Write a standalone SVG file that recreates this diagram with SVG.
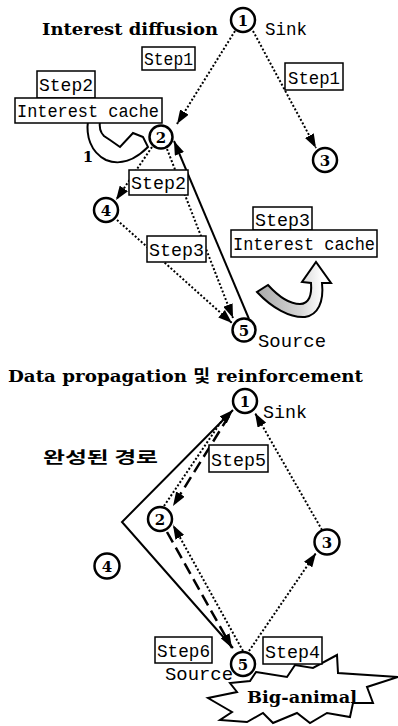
<svg xmlns="http://www.w3.org/2000/svg" width="398" height="726" viewBox="0 0 398 726">
<style>
.bg{fill:#fff}
.node circle{fill:#fff;stroke:#000;stroke-width:2.5}
.num{font-family:'DejaVu Serif','Liberation Serif',serif;font-weight:bold;font-size:15px;text-anchor:middle;fill:#000}
.title{font-family:'DejaVu Serif','Liberation Serif','Noto Sans CJK KR',serif;font-weight:bold;font-size:17px;fill:#000}
.lbl{font-family:'Liberation Mono','Courier New',monospace;font-size:19px;fill:#000}
.box{fill:#fff;stroke:#000;stroke-width:1.5}
.dot{fill:none;stroke:#000;stroke-width:2;stroke-dasharray:2 2}
.dash{fill:none;stroke:#000;stroke-width:2.5;stroke-dasharray:12 6}
.solid{fill:none;stroke:#000;stroke-width:2}
.arr{marker-end:url(#ah)}
</style>
<defs>
<marker id="ah" viewBox="0 0 14 10" refX="14" refY="5" markerWidth="14" markerHeight="10" markerUnits="userSpaceOnUse" orient="auto"><path d="M0,0 L14,5 L0,10 Z" fill="#000"/></marker>
<linearGradient id="gg" x1="257" y1="0" x2="322" y2="0" gradientUnits="userSpaceOnUse"><stop offset="0" stop-color="#aaa"/><stop offset="0.65" stop-color="#d4d4d4"/><stop offset="1" stop-color="#fff"/></linearGradient>
</defs>
<rect class="bg" x="0" y="0" width="398" height="726"/>

<text class="title" x="42" y="35" textLength="176" lengthAdjust="spacingAndGlyphs">Interest diffusion</text>
<text class="title" x="8" y="382" textLength="355" lengthAdjust="spacingAndGlyphs">Data propagation 및 reinforcement</text>

<g id="connectors">
<path class="dot arr" d="M235,31 L177,124"/>
<path class="dot arr" d="M253,31 L316,148"/>
<path class="dot arr" d="M152,147 L116,200"/>
<path class="dot arr" d="M117,220 L232,323"/>
<path class="dot arr" d="M167,149 L233,318"/>
<path class="solid arr" d="M249,319 L174,141"/>

<path class="solid arr" d="M233,648 L122,522 L233,410"/>
<path class="dash arr" d="M229,416 L173,506"/>
<path class="dot" d="M164,506 L225,416"/>
<path class="dot arr" d="M243,651 L173,525"/>
<path class="dash arr" d="M167,532 L232,648"/>
<path class="dot arr" d="M249,651 L316,553"/>
<path class="dot arr" d="M322,530 L255,413"/>
</g>

<g id="hook-left">
<path d="M143,137 L133,133 L120,147 L110,140 L104,136 C100,132 99,127 100,121 L88,121 C86,135 90,152 106,160 C120,166 135,160 148,147 Z" fill="#fff" stroke="#000" stroke-width="2"/>
</g>
<g id="hook-right">
<path d="M257,292 C272,308 290,318 305,317 C318,315 324,302 322,283 L331,283 L316,262 L302,282 L311,283 C312,295 309,304 300,304 C290,304 278,296 268,285 Z" fill="url(#gg)" stroke="#000" stroke-width="2"/>
</g>

<g id="label-1"><text class="num" x="88" y="162">1</text></g>

<g id="step1-left"><rect class="box" x="142" y="47" width="53" height="23"/><text class="lbl" x="144" y="65" textLength="49" lengthAdjust="spacingAndGlyphs">Step1</text></g>
<g id="step1-right"><rect class="box" x="285" y="63" width="58" height="27"/><text class="lbl" x="288" y="84" textLength="52" lengthAdjust="spacingAndGlyphs">Step1</text></g>
<g id="step2-top"><rect class="box" x="37" y="71" width="58" height="27"/><text class="lbl" x="39" y="91" textLength="54" lengthAdjust="spacingAndGlyphs">Step2</text></g>
<g id="cache-left"><rect class="box" x="15" y="98" width="147" height="25"/><text class="lbl" x="17" y="117" textLength="142" lengthAdjust="spacingAndGlyphs">Interest cache</text></g>
<g id="step2-mid"><rect class="box" x="129" y="170" width="59" height="25"/><text class="lbl" x="131" y="189" textLength="55" lengthAdjust="spacingAndGlyphs">Step2</text></g>
<g id="step3-left"><rect class="box" x="147" y="236" width="59" height="26"/><text class="lbl" x="149" y="256" textLength="55" lengthAdjust="spacingAndGlyphs">Step3</text></g>
<g id="step3-right"><rect class="box" x="253" y="207" width="59" height="23"/><text class="lbl" x="255" y="226" textLength="55" lengthAdjust="spacingAndGlyphs">Step3</text></g>
<g id="cache-right"><rect class="box" x="231" y="230" width="146" height="27"/><text class="lbl" x="233" y="250" textLength="142" lengthAdjust="spacingAndGlyphs">Interest cache</text></g>

<g id="sink-top"><text class="lbl" x="265" y="35" textLength="42" lengthAdjust="spacingAndGlyphs">Sink</text></g>
<g id="source-top"><text class="lbl" x="258" y="347" textLength="68" lengthAdjust="spacingAndGlyphs">Source</text></g>

<g id="t-node1" class="node"><circle cx="243" cy="20" r="12"/><text class="num" x="243" y="26">1</text></g>
<g id="t-node2" class="node"><circle cx="161" cy="137" r="11.5"/><text class="num" x="161" y="143">2</text></g>
<g id="t-node3" class="node"><circle cx="325" cy="160" r="12"/><text class="num" x="325" y="166">3</text></g>
<g id="t-node4" class="node"><circle cx="106" cy="210" r="12"/><text class="num" x="106" y="216">4</text></g>
<g id="t-node5" class="node"><circle cx="244" cy="330" r="11.5"/><text class="num" x="244" y="336">5</text></g>

<g id="completed-path-label"><text x="43" y="463" font-family="'Noto Sans CJK KR',sans-serif" font-weight="bold" font-size="16" textLength="115" lengthAdjust="spacingAndGlyphs">완성된 경로</text></g>

<g id="step5"><rect class="box" x="209" y="445" width="59" height="27"/><text class="lbl" x="211" y="466" textLength="55" lengthAdjust="spacingAndGlyphs">Step5</text></g>
<g id="sink-bottom"><text class="lbl" x="263" y="418" textLength="44" lengthAdjust="spacingAndGlyphs">Sink</text></g>

<g id="big-animal">
<polygon points="256,672 287,677 295,665 313,668 337,655 338,673 398,677 367,687 373,703 353,703 350,717 327,713 310,723 297,713 273,723 263,713 247,722 220,720 232,712 208,698 237,692 230,683 250,681" fill="#fff" stroke="#000" stroke-width="2" stroke-linejoin="miter"/>
<text x="247" y="703" font-family="'DejaVu Serif','Liberation Serif',serif" font-weight="bold" font-size="16" textLength="110" lengthAdjust="spacingAndGlyphs">Big-animal</text>
</g>

<g id="step6"><rect class="box" x="155" y="637" width="57" height="26"/><text class="lbl" x="157" y="657" textLength="53" lengthAdjust="spacingAndGlyphs">Step6</text></g>
<g id="step4"><rect class="box" x="263" y="637" width="59" height="27"/><text class="lbl" x="265" y="658" textLength="55" lengthAdjust="spacingAndGlyphs">Step4</text></g>
<g id="source-bottom"><text class="lbl" x="165" y="680" textLength="68" lengthAdjust="spacingAndGlyphs">Source</text></g>

<g id="b-node1" class="node"><circle cx="245" cy="401" r="12"/><text class="num" x="245" y="407">1</text></g>
<g id="b-node2" class="node"><circle cx="160" cy="519" r="12"/><text class="num" x="160" y="525">2</text></g>
<g id="b-node3" class="node"><circle cx="327" cy="542" r="12.5"/><text class="num" x="327" y="548">3</text></g>
<g id="b-node4" class="node"><circle cx="107" cy="566" r="12.5"/><text class="num" x="107" y="572">4</text></g>
<g id="b-node5" class="node"><circle cx="243" cy="664" r="12"/><text class="num" x="243" y="670">5</text></g>
</svg>
